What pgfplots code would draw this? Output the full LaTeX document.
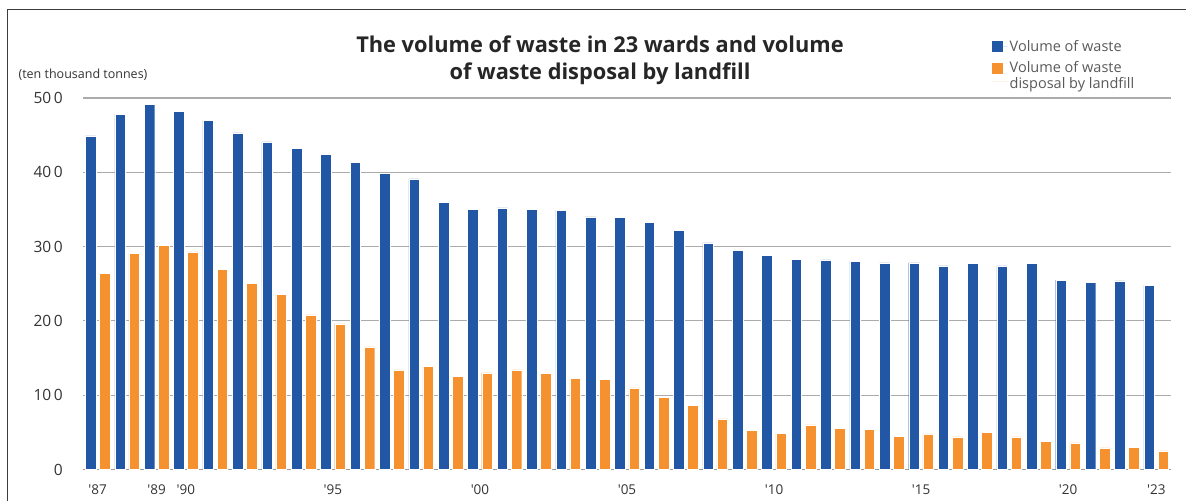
\documentclass[border=0pt]{standalone}
\usepackage{fontspec}
\setmainfont{Open Sans}
\usepackage{pgfplots}
\pgfplotsset{compat=1.18}
\definecolor{wblue}{HTML}{2257A5}
\definecolor{lorange}{HTML}{F5922F}
\definecolor{gridgray}{HTML}{ABABAB}
\definecolor{basegray}{HTML}{9C9C9C}
\definecolor{txtgray}{HTML}{333333}
\definecolor{leggray}{HTML}{595959}
\definecolor{framegray}{HTML}{3C3C3C}
\begin{document}
\begin{tikzpicture}[x=1pt,y=1pt]
\useasboundingbox (0,0) rectangle (1186,501);
\draw[framegray, line width=1.6pt] (7.3,0) -- (7.3,491.5) -- (1186,491.5);
\node[align=center, text=black!85, font=\bfseries\fontsize{21.8}{27}\selectfont] at (600,441)
  {The volume of waste in 23 wards and volume\\of waste disposal by landfill};
\node[text=txtgray, font=\fontsize{12.5}{14}\selectfont] at (83,426) {(ten thousand tonnes)};
\begin{axis}[
  at={(83pt,31.5pt)}, anchor=south west,
  scale only axis, width=1088pt, height=371.5pt,
  xmin=1986.5, xmax=2023.5, ymin=0, ymax=500,
  axis line style={draw=none},
  major tick length=0pt,
  ymajorgrids,
  grid style={color=gridgray, line width=1.1pt},
  ytick={0,100,200,300,400,500},
  yticklabels={0,10\,0,20\,0,30\,0,40\,0,50\,0},
  extra y ticks={0},
  extra y tick labels={},
  extra y tick style={grid style={color=basegray, line width=1.8pt}},
  yticklabel style={anchor=east, inner sep=0pt, xshift=-20pt, text=txtgray, font=\fontsize{15.5}{18}\selectfont},
  xtick={1987,1989,1990,1995,2000,2005,2010,2015,2020,2023},
  xticklabels={\textquotesingle87,\textquotesingle89,\textquotesingle90,\textquotesingle95,\textquotesingle00,\textquotesingle05,\textquotesingle10,\textquotesingle15,\textquotesingle20,\textquotesingle23},
  xticklabel style={anchor=base, inner sep=0pt, yshift=-24.5pt, text=txtgray, font=\fontsize{13.5}{15}\selectfont},
  legend style={at={(0.835,1.1614)}, anchor=north west, draw=none, fill=none,
    font=\fontsize{14.5}{16}\selectfont, text=leggray, inner sep=0pt,
    row sep=5pt, cells={anchor=west, align=left}},
  legend image code/.code={\fill[wblue, draw=none] (0pt,-5.5pt) rectangle (11pt,5.5pt); \path[draw=none] (0pt,0pt) -- (16pt,0pt);},
]
\addplot[ybar, bar width=0.36, bar shift=-0.24, fill=wblue, draw=white, line width=0.4pt] coordinates {
(1987,449) (1988,478) (1989,491) (1990,482) (1991,470) (1992,453) (1993,441) (1994,432)
(1995,424) (1996,413) (1997,399) (1998,391) (1999,360) (2000,350) (2001,352) (2002,350)
(2003,349) (2004,340) (2005,339) (2006,333) (2007,322) (2008,305) (2009,295) (2010,288)
(2011,283) (2012,282) (2013,280) (2014,278) (2015,278) (2016,274) (2017,277) (2018,274)
(2019,277) (2020,255) (2021,252) (2022,254) (2023,248)};
\addlegendentry{Volume of waste}
\addplot[ybar, bar width=0.36, bar shift=0.24, fill=lorange, draw=white, line width=0.4pt,
  legend image code/.code={\fill[lorange, draw=none] (0pt,2.5pt) rectangle (11pt,13.5pt); \path[draw=none] (0pt,-5.5pt) -- (16pt,-5.5pt);}] coordinates {
(1987,264) (1988,291) (1989,302) (1990,293) (1991,269) (1992,251) (1993,236) (1994,208)
(1995,196) (1996,165) (1997,134) (1998,139) (1999,125) (2000,130) (2001,134) (2002,129)
(2003,123) (2004,121) (2005,110) (2006,97) (2007,86) (2008,68) (2009,53) (2010,49)
(2011,60) (2012,55) (2013,54) (2014,45) (2015,48) (2016,44) (2017,50) (2018,44)
(2019,38) (2020,36) (2021,29) (2022,30) (2023,25)};
\addlegendentry{Volume of waste\\disposal by landfill}
\end{axis}
\end{tikzpicture}
\end{document}
